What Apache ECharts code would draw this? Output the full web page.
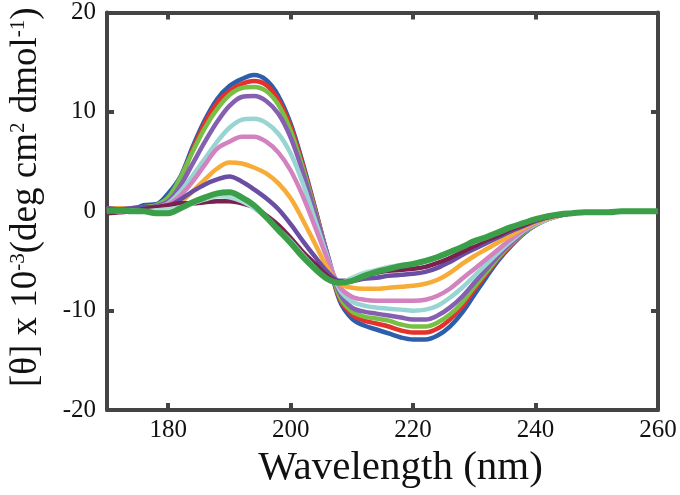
<!DOCTYPE html>
<html><head><meta charset="utf-8">
<script src="https://cdn.jsdelivr.net/npm/echarts@6/dist/echarts.min.js"></script>
<style>html,body{margin:0;padding:0;background:#fff}#c{width:680px;height:495px}</style>
</head><body><div id="c"></div>
<script>
var wavelengths = [170,172,174,176,178,180,182,184,186,188,190,192,194,196,198,200,202,204,206,208,210,212,214,216,218,220,222,224,226,228,230,232,234,236,238,240,242,244,246,248,250,252,254,256,258,260];
var xTicks = [180,200,220,240,260];
var blue = [0.2,0.3,0.2,0.6,0.7,1.8,3.5,6.5,9.2,11.3,12.6,13.3,13.7,13.2,11.6,8.8,4.8,0.3,-4.5,-9.0,-10.8,-11.5,-11.9,-12.3,-12.7,-12.9,-12.9,-12.5,-11.6,-10.2,-8.4,-6.6,-4.9,-3.5,-2.3,-1.4,-0.8,-0.4,-0.2,-0.1,-0.1,-0.1,0,0,0,0];
var red = [0.3,0.2,0.3,0.4,0.5,1.2,3.2,6.2,8.9,10.9,12.1,12.8,13.1,12.7,11.2,8.5,4.6,0.2,-4.4,-8.8,-10.4,-11.0,-11.3,-11.6,-12.0,-12.2,-12.2,-11.8,-10.9,-9.6,-7.9,-6.3,-4.7,-3.4,-2.2,-1.4,-0.8,-0.4,-0.2,-0.1,-0.1,-0.1,0,0,0,0];
var lightGreen = [0.3,0.3,0.2,0.4,0.6,1.4,3.4,6.0,8.4,10.3,11.7,12.4,12.5,12.1,10.7,8.1,4.3,0.0,-4.4,-8.6,-10.1,-10.6,-10.8,-11.0,-11.4,-11.6,-11.6,-11.2,-10.4,-9.2,-7.6,-6.1,-4.6,-3.3,-2.2,-1.4,-0.8,-0.4,-0.2,-0.1,-0.1,-0.1,0,0,0,0];
var purple = [0.2,0.3,0.2,0.3,0.5,1.0,2.6,4.8,7.0,9.0,10.6,11.5,11.6,11.1,9.8,7.4,3.9,-0.2,-4.3,-8.2,-9.7,-10.1,-10.3,-10.5,-10.7,-10.9,-10.9,-10.5,-9.7,-8.6,-7.2,-5.8,-4.4,-3.2,-2.1,-1.3,-0.8,-0.4,-0.2,-0.1,-0.1,-0.1,0,0,0,0];
var cyan = [0.2,0.2,0.3,0.3,0.4,0.8,2.0,3.6,5.3,7.0,8.4,9.2,9.3,8.9,7.8,5.8,2.8,-0.9,-4.6,-7.9,-9.1,-9.5,-9.7,-9.8,-9.9,-10.0,-9.9,-9.5,-8.7,-7.7,-6.5,-5.3,-4.1,-3.0,-2.0,-1.3,-0.8,-0.4,-0.2,-0.1,-0.1,-0.1,0,0,0,0];
var pink = [0.3,0.2,0.3,0.3,0.4,0.7,1.6,3.0,4.7,6.3,7.0,7.5,7.5,7.0,5.9,4.1,1.5,-1.6,-4.8,-7.6,-8.6,-8.9,-9.0,-9.0,-9.0,-9.0,-8.9,-8.5,-7.8,-6.8,-5.8,-4.8,-3.8,-2.8,-1.9,-1.2,-0.7,-0.4,-0.2,-0.1,-0.1,-0.1,0,0,0,0];
var orange = [0.2,0.3,0.2,0.2,0.3,0.3,0.9,2.0,3.2,4.3,4.9,4.8,4.4,3.8,2.8,1.3,-0.9,-3.3,-5.7,-7.3,-7.7,-7.8,-7.8,-7.7,-7.6,-7.5,-7.3,-6.9,-6.2,-5.3,-4.5,-3.8,-3.1,-2.4,-1.7,-1.1,-0.7,-0.4,-0.2,-0.1,-0.1,-0.1,0,0,0,0];
var darkPurple = [0.3,0.2,0.3,0.4,0.4,0.5,1.2,2.0,2.7,3.2,3.5,3.0,2.2,1.3,0.2,-1.3,-3.0,-4.6,-6.1,-7.0,-7.0,-6.8,-6.7,-6.5,-6.4,-6.3,-6.1,-5.7,-5.1,-4.4,-3.8,-3.2,-2.6,-2.0,-1.5,-1.0,-0.6,-0.4,-0.2,-0.1,-0.1,-0.1,0,0,0,0];
var maroon = [-0.2,-0.1,0.0,0.2,0.4,0.6,0.8,0.8,0.9,1.0,1.0,0.8,0.4,-0.4,-1.4,-2.7,-4.1,-5.3,-6.5,-7.1,-6.9,-6.5,-6.2,-6.0,-5.9,-5.8,-5.6,-5.2,-4.7,-4.1,-3.5,-2.9,-2.4,-1.8,-1.4,-0.9,-0.6,-0.3,-0.2,-0.1,-0.1,-0.1,0,0,0,0];
var paleCyan = [0.1,0.0,0.1,0.0,0.1,0.2,0.4,0.8,1.2,1.5,1.4,1.0,0.3,-0.6,-1.8,-3.0,-4.4,-5.7,-6.8,-7.2,-6.7,-6.2,-5.9,-5.6,-5.4,-5.3,-5.1,-4.7,-4.2,-3.6,-3.1,-2.6,-2.1,-1.6,-1.2,-0.8,-0.5,-0.3,-0.2,-0.1,-0.1,-0.1,0,0,0,0];
var green = [0.0,0.1,0.0,0.0,-0.2,-0.2,0.3,0.9,1.4,1.8,1.9,1.4,0.6,-0.6,-1.9,-3.2,-4.6,-5.8,-6.8,-7.2,-7.0,-6.5,-6.1,-5.8,-5.5,-5.3,-5.0,-4.6,-4.1,-3.6,-3.0,-2.6,-2.1,-1.6,-1.2,-0.8,-0.5,-0.3,-0.2,-0.1,-0.1,-0.1,0,0,0,0];

var seriesDefs = [
  [blue,'#2c5eab',4.5],[red,'#e4312b',4.5],[lightGreen,'#78bf46',4.5],[purple,'#8660b0',4.5],
  [cyan,'#97d4d2',4.5],[pink,'#d282be',4.5],[orange,'#f7ac37',4.5],[darkPurple,'#6a4ea4',4.5],
  [maroon,'#7a2150',4.5],[paleCyan,'#abdcd6',4.5],[green,'#3b9e48',6]
];
var serif = 'Liberation Serif';
var axisCol = '#444';
function frameAxis(pos, ticks){
  var o = {position:pos,
    axisLine:{show:true,onZero:false,lineStyle:{color:axisCol,width:4}},
    axisTick:{show:true,inside:true,length:7,lineStyle:{color:axisCol,width:4}},
    axisLabel:{show:false},splitLine:{show:false}};
  if (ticks) o.axisTick.customValues = ticks;
  return o;
}
var xBottom = Object.assign(frameAxis('bottom', xTicks), {type:'value',min:170,max:260,
  axisLabel:{customValues:xTicks,fontFamily:serif,fontSize:25,color:'#111',margin:8},
  name:'Wavelength (nm)',nameLocation:'middle',nameGap:28,
  nameTextStyle:{fontFamily:serif,fontSize:41,color:'#111',padding:[0,0,0,36]}});
var xTop = Object.assign(frameAxis('top', xTicks), {type:'value',min:170,max:260});
var yLeft = Object.assign(frameAxis('left'), {type:'value',min:-20,max:20,interval:10,
  axisLabel:{fontFamily:serif,fontSize:25,color:'#111',margin:11},
  name:'[θ] x 10{s|-3}(deg cm{s|2} dmol{s|-1})',nameLocation:'middle',nameGap:62,
  nameTextStyle:{fontFamily:serif,fontSize:37,color:'#111',padding:[0,0,0,28],
    rich:{s:{fontFamily:serif,fontSize:21,color:'#111',verticalAlign:'top',padding:[0,0,14,0]}}}});
var yRight = Object.assign(frameAxis('right'), {type:'value',min:-20,max:20,interval:10});

var chart = echarts.init(document.getElementById('c'));
chart.setOption({
  animation:false,
  grid:{left:106,right:22,top:12,bottom:85},
  xAxis:[xBottom, xTop],
  yAxis:[yLeft, yRight],
  series: seriesDefs.map(function(d,i){
    return {type:'line',xAxisIndex:0,yAxisIndex:0,showSymbol:false,smooth:0.35,
      data: wavelengths.map(function(w,j){return [w,d[0][j]];}),
      lineStyle:{color:d[1],width:d[2]},itemStyle:{color:d[1]},z:2+i};
  })
});
</script></body></html>
